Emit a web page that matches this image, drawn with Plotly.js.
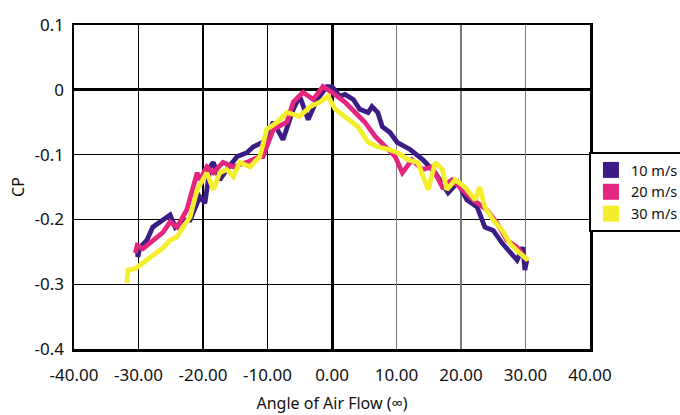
<!DOCTYPE html>
<html>
<head>
<meta charset="utf-8">
<script src="https://cdn.plot.ly/plotly-3.0.1.min.js"></script>
<style>html,body{margin:0;padding:0;background:#fff;}#chart{width:680px;height:415px;}</style>
</head>
<body>
<div id="chart"></div>
<script>
// Series names
const seriesNames = ['10 m/s', '20 m/s', '30 m/s'];
const seriesColors = ['#3c1d86', '#e5267e', '#f4ee2c'];

// 10 m/s
const angle10 = [-30.2,-30.1,-29.8,-28.7,-27.8,-26.7,-25.1,-24.3,-23.1,-22.0,-20.5,-19.7,-18.9,-18.4,-17.4,-16.3,-14.7,-13.2,-12.2,-10.7,-9.1,-7.6,-6.0,-5.0,-3.7,-2.3,-0.8,0.0,1.2,2.0,3.3,4.3,5.6,6.2,7.1,7.8,9.0,10.1,12.1,14.1,16.0,18.0,19.5,20.9,22.5,23.7,25.0,26.4,27.3,28.7,29.6,29.9,30.2];
const cp10 = [-0.240,-0.258,-0.244,-0.232,-0.212,-0.204,-0.193,-0.212,-0.201,-0.201,-0.165,-0.175,-0.119,-0.112,-0.139,-0.123,-0.103,-0.097,-0.088,-0.081,-0.050,-0.077,-0.030,-0.010,-0.046,-0.015,0.005,0.005,-0.010,-0.007,-0.015,-0.030,-0.035,-0.026,-0.035,-0.057,-0.066,-0.081,-0.092,-0.108,-0.128,-0.159,-0.143,-0.170,-0.181,-0.212,-0.217,-0.237,-0.248,-0.263,-0.243,-0.278,-0.263];

// 20 m/s
const angle20 = [-30.5,-30.2,-29.3,-27.8,-26.2,-25.1,-24.0,-22.5,-21.6,-20.9,-20.5,-19.4,-18.4,-16.9,-15.3,-13.2,-11.2,-10.7,-9.1,-7.0,-6.0,-4.5,-2.9,-1.4,0.0,2.0,3.6,5.1,6.7,8.2,9.8,10.9,12.4,14.0,15.5,17.1,18.6,20.2,21.9,24.0,25.6,27.1,28.7,30.2];
const cp20 = [-0.252,-0.240,-0.245,-0.232,-0.220,-0.204,-0.212,-0.185,-0.154,-0.128,-0.139,-0.119,-0.128,-0.112,-0.119,-0.112,-0.103,-0.103,-0.061,-0.050,-0.019,-0.004,-0.015,0.005,-0.004,-0.019,-0.035,-0.050,-0.072,-0.088,-0.103,-0.128,-0.108,-0.123,-0.119,-0.150,-0.139,-0.154,-0.170,-0.185,-0.206,-0.232,-0.243,-0.263];

// 30 m/s
const angle30 = [-31.8,-31.6,-30.5,-29.8,-28.2,-27.1,-26.2,-25.1,-24.0,-23.1,-22.0,-20.9,-19.4,-18.4,-17.4,-16.3,-15.3,-14.3,-12.7,-11.2,-10.1,-8.5,-7.0,-5.0,-3.4,-1.9,-0.6,0.5,2.0,4.0,5.6,7.1,8.7,10.2,11.8,13.3,14.9,16.0,17.1,17.8,19.1,20.6,22.2,22.9,23.7,25.0,26.4,27.6,29.1,30.4];
const cp30 = [-0.298,-0.278,-0.276,-0.271,-0.258,-0.250,-0.244,-0.232,-0.227,-0.212,-0.196,-0.154,-0.128,-0.154,-0.128,-0.123,-0.134,-0.112,-0.119,-0.103,-0.061,-0.050,-0.035,-0.041,-0.026,-0.019,-0.010,-0.030,-0.041,-0.057,-0.081,-0.088,-0.092,-0.097,-0.108,-0.112,-0.154,-0.112,-0.123,-0.154,-0.139,-0.150,-0.170,-0.150,-0.181,-0.201,-0.217,-0.237,-0.252,-0.263];

// Tick labels
const xTickVals = [-40,-30,-20,-10,0,10,20,30,40];
const xTickText = ['-40.00','-30.00','-20.00','-10.00','0.00','10.00','20.00','30.00','40.00'];
const xGrayGridVals = [10,20,30];
const yTickVals = [-0.4,-0.3,-0.2,-0.1,0,0.1];
const yTickText = ['-0.4','-0.3','-0.2','-0.1','0','0.1'];

const xs = [angle10, angle20, angle30];
const ys = [cp10, cp20, cp30];

const font = 'Noto Sans, Open Sans, sans-serif';
const traces = [];
for (let i = 0; i < 3; i++) {
  traces.push({
    type: 'scatter', mode: 'lines', x: xs[i], y: ys[i],
    name: seriesNames[i], showlegend: false, legendgroup: 'g' + i,
    line: {color: seriesColors[i], width: 4.8}, hoverinfo: 'skip'
  });
}
for (let i = 0; i < 3; i++) {
  traces.push({
    type: 'scatter', mode: 'markers', x: [null], y: [null], xaxis: 'x2',
    name: seriesNames[i], showlegend: true, legendgroup: 'g' + i,
    marker: {symbol: 'square', size: 16, color: seriesColors[i]}
  });
}

const layout = {
  width: 680, height: 415,
  margin: {l: 74, r: 90, t: 25, b: 66, pad: 0, autoexpand: false},
  paper_bgcolor: '#fff', plot_bgcolor: '#fff',
  font: {family: font, color: '#111', size: 16},
  xaxis: {
    range: [-40, 40], tickmode: 'array', tickvals: xTickVals, ticktext: xTickText,
    showgrid: true, gridcolor: '#000', gridwidth: 1.3,
    zeroline: true, zerolinecolor: '#000', zerolinewidth: 3,
    showline: true, linecolor: '#000', linewidth: 2.5, mirror: true,
    ticks: 'outside', ticklen: 0, ticklabelstandoff: 9,
    tickfont: {size: 17, family: font, color: '#111'},
    title: {text: 'Angle of Air Flow (∞)', font: {size: 16, family: font, color: '#111'}, standoff: 13},
    fixedrange: true, automargin: false
  },
  xaxis2: {
    overlaying: 'x', anchor: 'y', range: [-40, 40], tickmode: 'array', tickvals: xGrayGridVals,
    showgrid: true, gridcolor: '#7a7a7a', gridwidth: 1.8,
    showticklabels: false, zeroline: false, showline: false, ticks: '', fixedrange: true
  },
  yaxis: {
    range: [-0.4, 0.1], tickmode: 'array', tickvals: yTickVals, ticktext: yTickText,
    showgrid: true, gridcolor: '#000', gridwidth: 1.3,
    zeroline: true, zerolinecolor: '#000', zerolinewidth: 3,
    showline: true, linecolor: '#000', linewidth: 2.5, mirror: true,
    ticks: 'outside', ticklen: 0, ticklabelstandoff: 4,
    tickfont: {size: 17, family: font, color: '#111'},
    title: {text: 'CP', font: {size: 16, family: font, color: '#111'}, standoff: 6},
    fixedrange: true, automargin: false
  },
  legend: {
    x: 0.998, y: 0.608, xanchor: 'left', yanchor: 'top',
    bordercolor: '#000', borderwidth: 2, bgcolor: '#fff',
    font: {size: 14.5, family: font, color: '#111'},
    itemwidth: 30, tracegroupgap: 0
  },
  showlegend: true
};

Plotly.newPlot('chart', traces, layout, {staticPlot: true, displayModeBar: false});
</script>
</body>
</html>
